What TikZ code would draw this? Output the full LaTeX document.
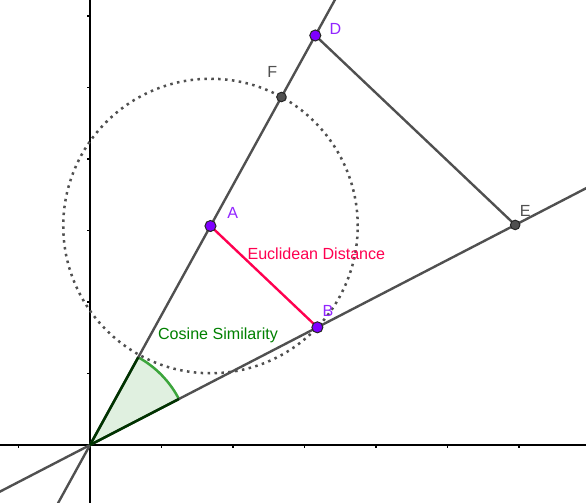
\documentclass[tikz,border=0pt]{standalone}
\usepackage{fontspec}
\setmainfont{Liberation Sans}
\definecolor{VecPurple}{RGB}{127,0,255}
\definecolor{EucRed}{RGB}{255,0,80}
\definecolor{CosGreen}{RGB}{0,128,0}
\definecolor{ArcGreen}{RGB}{60,165,60}
\definecolor{EdgeGreen}{RGB}{0,51,0}
\definecolor{LineGray}{RGB}{80,80,80}
\usetikzlibrary{calc,angles}

\begin{document}
\begin{tikzpicture}[
      every node/.style={font=\fontsize{6.4}{7.6}\selectfont, inner sep=0pt},
      axisline/.style  ={line width=0.55pt, black},
      axtick/.style    ={line width=0.45pt, black},
      ray/.style       ={line width=0.95pt, LineGray},
      circ/.style      ={line width=1pt, LineGray, dash pattern=on 1pt off 1.75pt},
      eucseg/.style    ={line width=0.95pt, EucRed},
      wedgeedge/.style ={line width=1pt, EdgeGreen},
      vecpt/.style     ={circle, fill=VecPurple, draw=black!85, line width=0.4pt, minimum size=4.4pt},
      auxpt/.style     ={circle, fill=LineGray, draw=black!85, line width=0.4pt, minimum size=3.8pt},
      vlbl/.style      ={text=VecPurple!85!white},
      albl/.style      ={text=LineGray},
  ]
  \useasboundingbox (-1.259,-0.811) rectangle (6.937,6.224);
  \clip (-1.259,-0.811) rectangle (6.937,6.224);

  % ─ Points ─
  \coordinate (O) at (0,0);
  \coordinate (A) at (1.685,3.063);
  \coordinate (B) at (3.18,1.646);
  \coordinate (D) at ($1.87*(A)$);
  \coordinate (E) at ($1.87*(B)$);
  \path let \p1=($(B)-(A)$), \n1={veclen(\x1,\y1)} in ($(A)!\n1!(D)$) coordinate (F);

  % ─ Axes ─
  \draw[axisline] (-1.3,0) -- (7,0);
  \draw[axisline] (0,-0.9) -- (0,6.3);
  \foreach \i in {-1,1,2,...,6}
    \draw[axtick] (\i,0) -- (\i,-0.045);
  \foreach \j in {1,...,6}
    \draw[axtick] (0,\j) -- (-0.045,\j);

  % ─ Angle between the vectors ─
  \pic[fill=CosGreen!12, draw=ArcGreen, line width=1pt, angle radius=1.4cm] {angle=B--O--A};

  % ─ Lines through O ─
  \draw[ray] ($(O)!-1!(A)$) -- ($(O)!3!(A)$);
  \draw[ray] ($(O)!-1!(B)$) -- ($(O)!3!(B)$);
  \draw[ray] (D) -- (E);
  \draw[wedgeedge] (O) -- ($(O)!1.4cm!(A)$);
  \draw[wedgeedge] (O) -- ($(O)!1.4cm!(B)$);

  % ─ Circle round A through B ─
  \draw[circ] let \p1=($(B)-(A)$), \n1={veclen(\x1,\y1)} in (A) circle (\n1);

  % ─ Distance A-B ─
  \draw[eucseg] (A) -- (B);

  % ─ Markers and labels ─
  \node[auxpt] (pF) at (F) {};
  \node[auxpt] (pE) at (E) {};
  \node[vecpt] (pA) at (A) {};
  \node[vecpt] (pB) at (B) {};
  \node[vecpt] (pD) at (D) {};
  \node[vlbl] (lA) at ($(A)+(0.31,0.18)$) {A};
  \node[vlbl] (lB) at ($(B)+(0.15,0.23)$) {B};
  \node[vlbl] (lD) at ($(D)+(0.28,0.09)$) {D};
  \node[albl] (lE) at ($(E)+(0.14,0.19)$) {E};
  \node[albl] (lF) at ($(F)+(-0.13,0.35)$) {F};

  \node[text=EucRed, anchor=west] (eucl) at (2.196,2.671) {Euclidean Distance};
  \node[text=CosGreen]            (cosl) at (1.79,1.538)  {Cosine Similarity};
\end{tikzpicture}
\end{document}
